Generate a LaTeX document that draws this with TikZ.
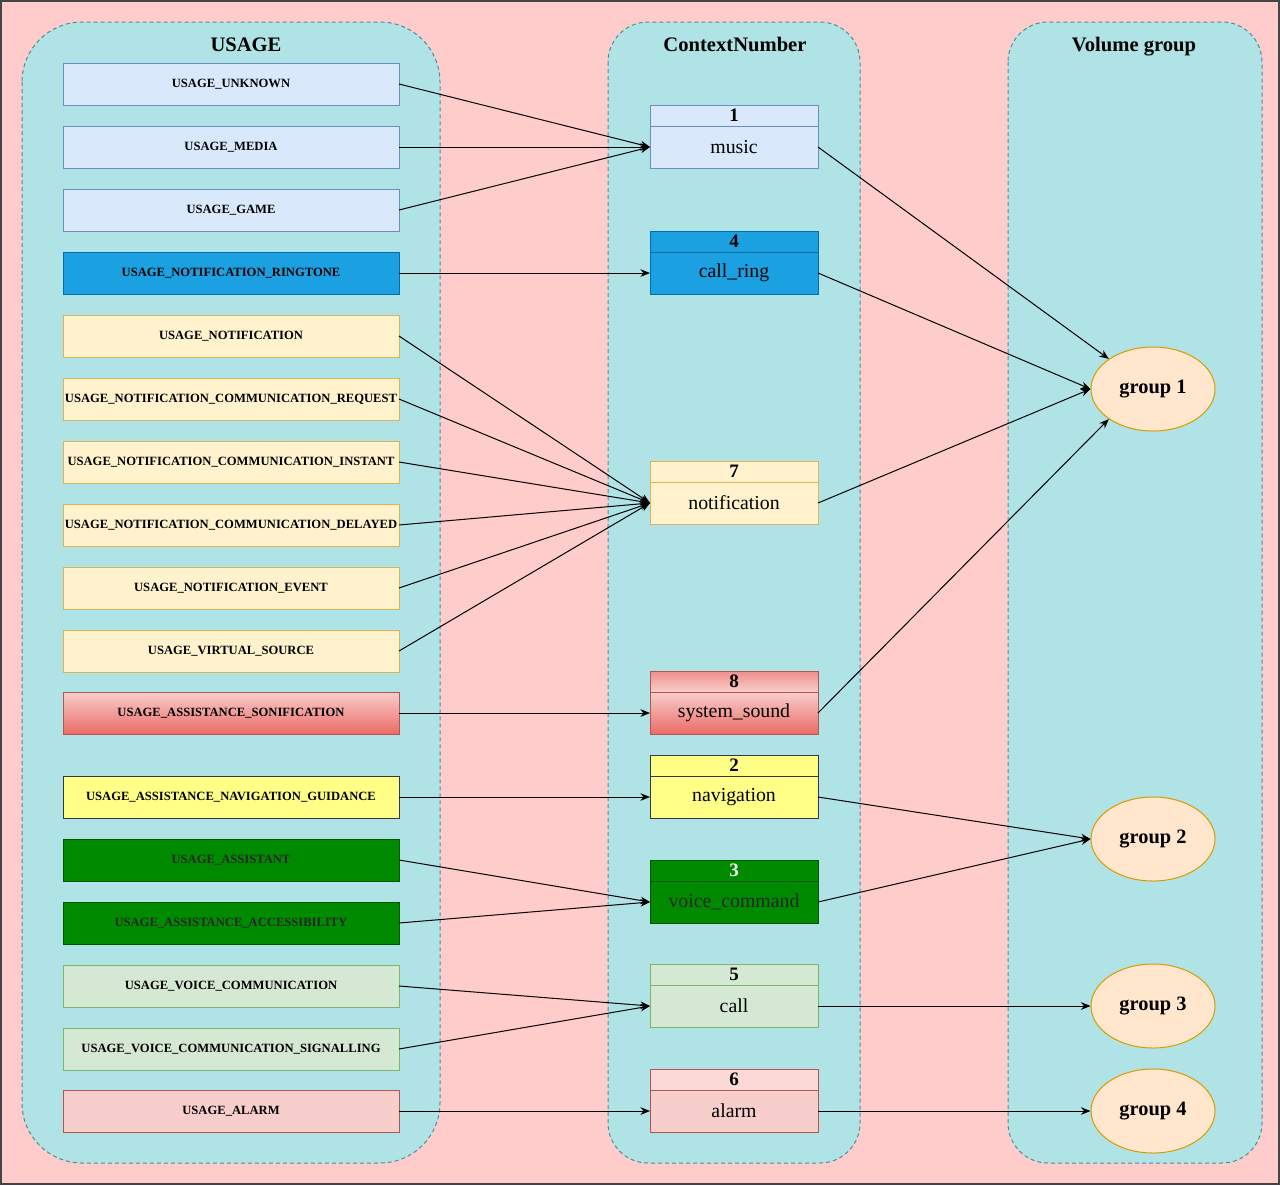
\documentclass[tikz,border=0pt]{standalone}
\usepackage{fontspec}
\setmainfont{Liberation Serif}
\usepackage{tikz}
\usetikzlibrary{arrows.meta,positioning,shapes.geometric}

\definecolor{bgpink}{HTML}{FFCCCC}
\definecolor{framegray}{HTML}{444444}
\definecolor{lanefill}{HTML}{B0E3E6}
\definecolor{lanedraw}{HTML}{4F8D93}
\definecolor{lbluefill}{HTML}{DAE8FC}
\definecolor{lbluedraw}{HTML}{6C8EBF}
\definecolor{bluefill}{HTML}{1BA1E2}
\definecolor{bluedraw}{HTML}{006EAF}
\definecolor{lyelfill}{HTML}{FFF2CC}
\definecolor{lyeldraw}{HTML}{D6B656}
\definecolor{redtop}{HTML}{F8CECC}
\definecolor{redbot}{HTML}{EA6B66}
\definecolor{redhead}{HTML}{EE8E8B}
\definecolor{reddraw}{HTML}{B85450}
\definecolor{yelfill}{HTML}{FFFF88}
\definecolor{yeldraw}{HTML}{36393D}
\definecolor{greenfill}{HTML}{008A00}
\definecolor{greendraw}{HTML}{005700}
\definecolor{lgreenfill}{HTML}{D5E8D4}
\definecolor{lgreendraw}{HTML}{82B366}
\definecolor{alarmhead}{HTML}{FAD9D6}
\definecolor{groupfill}{HTML}{FFE6CC}
\definecolor{groupdraw}{HTML}{D79B00}

\begin{document}
\begin{tikzpicture}[
x = 0.5pt, y = -0.5pt, % one unit = one pixel
> = {Stealth[length=4.8pt,width=3.8pt]}, % arrow head style
line width = 0.5pt, % line style
node distance = 31.5pt % distance between usage boxes
]

\tikzstyle{lane}=[draw = lanedraw, fill = lanefill, dash pattern = on 2pt off 1.5pt]
\tikzstyle{usage}=[draw, minimum width = 168pt, minimum height = 21pt, inner sep = 0pt, outer sep = 0pt, font = \fontsize{6.3}{7}\selectfont\bfseries]
\tikzstyle{ctxhead}=[draw, minimum width = 84pt, minimum height = 10.5pt, inner sep = 0pt, outer sep = 0pt, font = \fontsize{9.5}{10}\selectfont\bfseries]
\tikzstyle{ctxbody}=[draw, minimum width = 84pt, minimum height = 21pt, inner sep = 0pt, outer sep = 0pt, font = \fontsize{9.9}{11}\selectfont]
\tikzstyle{group}=[ellipse, draw = groupdraw, fill = groupfill, minimum width = 62pt, minimum height = 42pt, inner sep = 0pt, font = \fontsize{10.2}{11}\selectfont\bfseries]
\tikzstyle{title}=[anchor = base, font = \fontsize{10.3}{12}\selectfont\bfseries]

\tikzstyle{lblue}=[fill = lbluefill, draw = lbluedraw]
\tikzstyle{blue}=[fill = bluefill, draw = bluedraw]
\tikzstyle{lyel}=[fill = lyelfill, draw = lyeldraw]
\tikzstyle{redgrad}=[top color = redtop, bottom color = redbot, draw = reddraw]
\tikzstyle{redhd}=[top color = redhead, bottom color = redtop, draw = reddraw]
\tikzstyle{yel}=[fill = yelfill, draw = yeldraw]
\tikzstyle{grn}=[fill = greenfill, draw = greendraw, text = black!85]
\tikzstyle{lgrn}=[fill = lgreenfill, draw = lgreendraw]
\tikzstyle{alarmbox}=[fill = redtop, draw = reddraw]

% background and lanes
\useasboundingbox (0,0) rectangle (1280,1185);
\fill[bgpink] (0,0) rectangle (1280,1185);
\draw[framegray, line width = 1pt] (1,1) rectangle (1279,1184);
\draw[lane, rounded corners = 30pt] (22,22) rectangle (440,1163);
\draw[lane, rounded corners = 20pt] (608,22) rectangle (860,1163);
\draw[lane, rounded corners = 20pt] (1008,22) rectangle (1262,1163);

\node[title] (tusage) at (246,51) {USAGE};
\node[title] (tctx) at (735,51) {ContextNumber};
\node[title] (tvol) at (1134,51) {Volume group};

% usages
\node[usage, lblue] (u1) at (231,84) {USAGE\_UNKNOWN};
\node[usage, lblue] (u2) [below of=u1] {USAGE\_MEDIA};
\node[usage, lblue] (u3) [below of=u2] {USAGE\_GAME};
\node[usage, blue] (u4) [below of=u3] {USAGE\_NOTIFICATION\_RINGTONE};
\node[usage, lyel] (u5) [below of=u4] {USAGE\_NOTIFICATION};
\node[usage, lyel] (u6) [below of=u5] {USAGE\_NOTIFICATION\_COMMUNICATION\_REQUEST};
\node[usage, lyel] (u7) [below of=u6] {USAGE\_NOTIFICATION\_COMMUNICATION\_INSTANT};
\node[usage, lyel] (u8) [below of=u7] {USAGE\_NOTIFICATION\_COMMUNICATION\_DELAYED};
\node[usage, lyel] (u9) [below of=u8] {USAGE\_NOTIFICATION\_EVENT};
\node[usage, lyel] (u10) [below of=u9] {USAGE\_VIRTUAL\_SOURCE};
\node[usage, redgrad] (u11) [below of=u10, node distance = 31pt] {USAGE\_ASSISTANCE\_SONIFICATION};
\node[usage, yel] (u12) [below of=u11, node distance = 42pt] {USAGE\_ASSISTANCE\_NAVIGATION\_GUIDANCE};
\node[usage, grn] (u13) [below of=u12] {USAGE\_ASSISTANT};
\node[usage, grn] (u14) [below of=u13] {USAGE\_ASSISTANCE\_ACCESSIBILITY};
\node[usage, lgrn] (u15) [below of=u14] {USAGE\_VOICE\_COMMUNICATION};
\node[usage, lgrn] (u16) [below of=u15] {USAGE\_VOICE\_COMMUNICATION\_SIGNALLING};
\node[usage, alarmbox] (u17) [below of=u16, node distance = 31pt] {USAGE\_ALARM};

% context numbers
\node[ctxbody, lblue] (music) at (734,147) {music};
\node[ctxhead, lblue] (music h) [above=0pt of music] {1};
\node[ctxbody, blue] (ring) at (734,273) {call\_ring};
\node[ctxhead, blue] (ring h) [above=0pt of ring] {4};
\node[ctxbody, lyel] (notif) at (734,503) {notification};
\node[ctxhead, lyel] (notif h) [above=0pt of notif] {7};
\node[ctxbody, redgrad] (sys) at (734,713) {system\_sound};
\node[ctxhead, redhd] (sys h) [above=0pt of sys] {8};
\node[ctxbody, yel] (nav) at (734,797) {navigation};
\node[ctxhead, yel] (nav h) [above=0pt of nav] {2};
\node[ctxbody, grn] (voice) at (734,902) {voice\_command};
\node[ctxhead, grn, text = white] (voice h) [above=0pt of voice] {3};
\node[ctxbody, lgrn] (call) at (734,1006) {call};
\node[ctxhead, lgrn] (call h) [above=0pt of call] {5};
\node[ctxbody, alarmbox] (alarm) at (734,1111) {alarm};
\node[ctxhead, alarmbox, fill = alarmhead] (alarm h) [above=0pt of alarm] {6};

% volume groups
\node[group] (g1) at (1153,389) {group 1};
\node[group] (g2) at (1153,839) {group 2};
\node[group] (g3) at (1153,1006) {group 3};
\node[group] (g4) at (1153,1111) {group 4};

\path[->] (u1.east) edge (music.west);
\path[->] (u2.east) edge (music.west);
\path[->] (u3.east) edge (music.west);
\path[->] (u4.east) edge (ring.west);
\path[->] (u5.east) edge (notif.west);
\path[->] (u6.east) edge (notif.west);
\path[->] (u7.east) edge (notif.west);
\path[->] (u8.east) edge (notif.west);
\path[->] (u9.east) edge (notif.west);
\path[->] (u10.east) edge (notif.west);
\path[->] (u11.east) edge (sys.west);
\path[->] (u12.east) edge (nav.west);
\path[->] (u13.east) edge (voice.west);
\path[->] (u14.east) edge (voice.west);
\path[->] (u15.east) edge (call.west);
\path[->] (u16.east) edge (call.west);
\path[->] (u17.east) edge (alarm.west);

\path[->] (music.east) edge (g1.north west);
\path[->] (ring.east) edge (g1.west);
\path[->] (notif.east) edge (g1.west);
\path[->] (sys.east) edge (g1.south west);
\path[->] (nav.east) edge (g2.west);
\path[->] (voice.east) edge (g2.west);
\path[->] (call.east) edge (g3.west);
\path[->] (alarm.east) edge (g4.west);

\end{tikzpicture}
\end{document}
